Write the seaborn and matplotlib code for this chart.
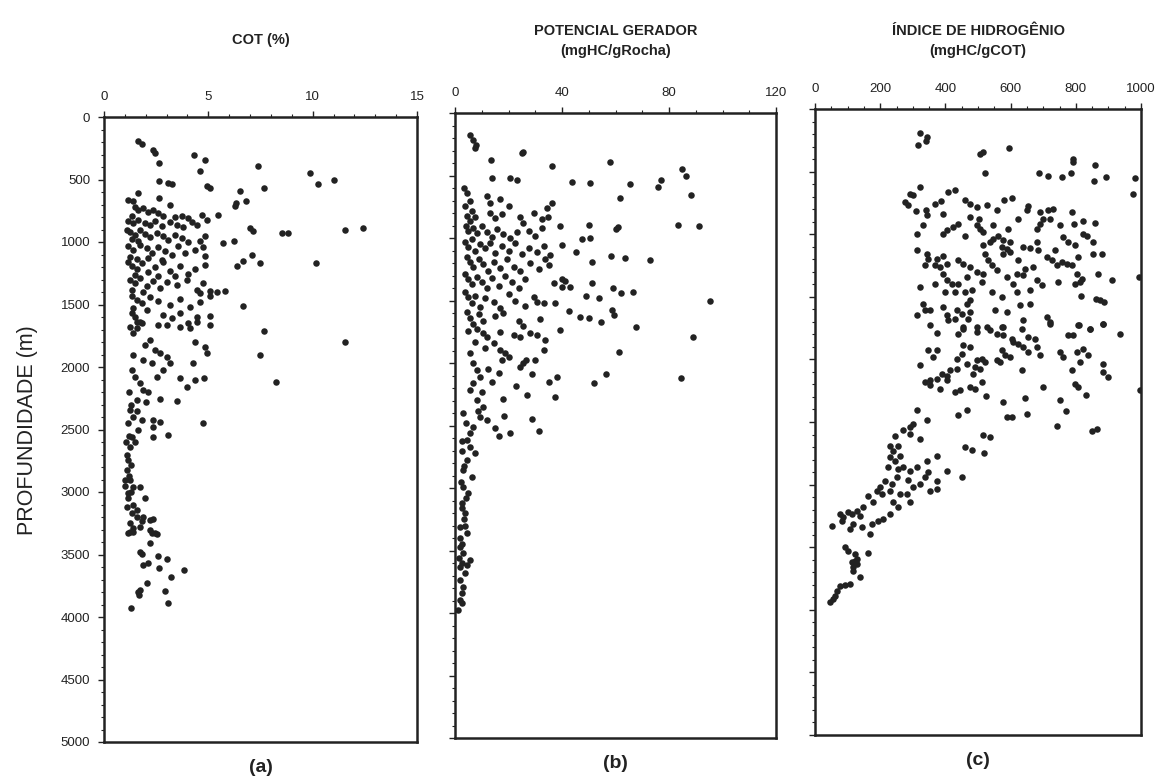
import numpy as np
import pandas as pd
import matplotlib
matplotlib.use("Agg")
import matplotlib.pyplot as plt
import seaborn as sns

# (valor, profundidade m)
cot_pts = [
    (1.65,190),(1.81,215),(2.36,265),(2.44,285),(2.65,370),(4.33,305),(4.84,340),(4.6,430),(7.4,390),
    (9.87,445),(10.27,535),(11.04,505),(2.65,515),(3.08,525),(3.24,535),(4.92,550),(5.08,565),(6.52,590),
    (7.68,570),(6.8,670),(6.33,685),(6.28,715),(1.65,605),(1.17,665),(1.4,675),(2.65,645),(3.16,705),
    (5.48,780),(4.71,785),(4.92,825),(7.0,890),(7.12,910),(8.51,930),(8.83,930),(11.55,905),(12.43,885),
    (5.72,1010),(6.23,995),(7.08,1105),(6.68,1150),(6.36,1190),(7.48,1165),(10.16,1170),(6.68,1510),
    (1.49,720),(1.65,745),(1.89,730),(2.12,760),(2.36,740),(2.6,770),(1.33,790),(2.84,795),(3.4,800),
    (3.72,790),(4.04,810),(4.2,840),
    (1.17,830),(1.41,850),(1.65,820),(1.96,845),(2.2,860),(2.44,830),(2.76,870),(3.16,840),(3.48,860),
    (3.8,880),(4.44,865),
    (1.09,900),(1.25,920),(1.49,945),(1.73,905),(1.96,935),(2.2,960),(2.52,925),(2.84,950),(3.08,985),
    (3.4,940),(3.72,965),(4.04,1000),(4.6,990),(4.84,955),(1.33,975),(1.65,995),
    (1.17,1030),(1.41,1060),(1.73,1020),(2.04,1045),(2.28,1085),(2.6,1040),(2.92,1070),(3.24,1100),
    (3.56,1030),(3.88,1090),(4.36,1060),(4.76,1040),(4.84,1110),(1.25,1120),(1.57,1135),(2.12,1125),(2.76,1140),
    (1.17,1160),(1.33,1190),(1.57,1215),(1.81,1170),(2.12,1240),(2.44,1200),(2.84,1160),(3.16,1230),
    (3.64,1190),(4.04,1255),(4.36,1215),(4.84,1180),(1.49,1265),(2.6,1275),(3.4,1270),
    (1.25,1300),(1.49,1330),(1.73,1290),(2.04,1350),(2.36,1310),(2.68,1370),(3.0,1320),(3.48,1345),
    (3.96,1300),(4.44,1380),(4.76,1330),(5.08,1390),(5.4,1400),(5.8,1395),(4.6,1410),(1.33,1385),(1.89,1400),
    (1.33,1430),(1.57,1460),(1.81,1490),(2.2,1440),(2.6,1470),(3.16,1500),(3.64,1455),(4.12,1520),
    (4.6,1480),(5.08,1435),(1.41,1530),(2.04,1540),
    (1.33,1570),(1.49,1600),(1.73,1640),(2.84,1580),(3.24,1610),(3.64,1565),(4.04,1650),(4.44,1600),
    (5.08,1590),(1.25,1680),(1.57,1690),(2.6,1660),
    (1.57,1637),(1.81,1651),(3.0,1664),(3.64,1677),(4.12,1691),(4.44,1637),(5.08,1664),(7.68,1712),
    (11.55,1797),(7.48,1904),(8.24,2123),(4.76,2451),(4.28,1971),(4.36,1797),(4.84,1837),(4.92,1891),
    (3.64,2091),(3.96,2157),(4.36,2104),(4.81,2091),(2.68,2256),(3.51,2272),(2.36,2424),(2.68,2437),
    (2.36,2477),(2.33,2557),(3.08,2544),
    (1.41,1731),(1.96,1824),(2.2,1784),(2.44,1864),(2.68,1891),(3.0,1917),(3.16,1971),(2.84,2024),
    (2.52,2077),(2.28,1971),(1.89,1944),(1.41,1904),(1.33,2024),(1.49,2077),(1.73,2131),(1.89,2184),
    (2.12,2197),(1.57,2264),(1.25,2344),(1.41,2397),(1.81,2424),(1.65,2504),(1.33,2557),(1.25,2637),
    (1.17,2744),(1.09,2824),(1.25,2904),(1.41,2957),(1.73,2957),(1.96,3051),(1.17,3011),(1.09,3117),
    (1.33,3171),(1.57,3197),(1.89,3197),(2.2,3224),(2.36,3217),(1.25,3251),(1.41,3291),(1.73,3277),
    (2.2,3304),(2.44,3331),(1.17,3331),
    (1.2,2200),(1.3,2300),(1.15,2450),(1.5,2600),(1.1,2700),(1.3,2780),(1.2,2870),(1.0,2950),(1.15,3050),
    (1.4,3100),(1.6,3140),(1.8,3230),(1.2,2550),(1.6,2350),(2.0,2280),(1.05,2600),(1.0,2900),(1.3,3000),
    (1.25,3317),(1.41,3317),(2.28,3331),(2.52,3336),(2.2,3411),(1.73,3477),(1.81,3496),(2.6,3512),
    (3.0,3539),(1.89,3584),(2.12,3571),(2.65,3611),(3.83,3624),(3.21,3677),(2.04,3731),(1.65,3797),
    (1.73,3784),(1.69,3824),(2.92,3792),(3.08,3891),(1.28,3931),
]

pg_pts = [
    (5.6,176),(6.9,216),(7.9,256),(7.5,283),(13.4,376),(25,323),(25.6,309),(36.3,424),(57.9,389),
    (84.8,448),(86.3,504),(88.1,656),(13.75,523),(20.6,523),(23.1,536),(43.75,549),(50.4,557),(65.6,568),
    (75.9,589),(77.1,536),(61.6,683),(83.5,896),(91.25,904),(39.4,904),(50,896),(60,928),(60.9,909),
    (47.5,1011),(50.6,997),(40,1056),(45.25,1109),(51.25,1195),(58.5,1144),(63.4,1157),(72.75,1176),
    (36.3,723),(34.6,829),(95.4,1501),(51.25,1357),(59,1403),(61.9,1443),(66.6,1429),(49.1,1464),
    (53.75,1483),(42.5,1581),(46.6,1629),(50,1643),(54.4,1669),(58.75,1576),(59.4,1616),(41.25,1341),
    (40,1389),(37.5,1517),(30.6,1509),(35.6,1136),(35,1216),(67.5,1709),
    (3.5,600),(4.5,640),(5.5,700),(3.8,740),(6.2,780),(11.9,660),(13.1,720),(16.9,690),(20,740),
    (4.4,820),(5.6,860),(7.5,830),(13.1,800),(15,840),(17.5,810),(24.4,830),(25.6,880),(29.4,800),
    (32.5,850),(34.4,760),
    (4,900),(5,940),(6.9,920),(8.1,960),(10,900),(11.9,950),(13.8,990),(15.6,930),(18.1,970),(20.6,1000),
    (23.1,950),(27.5,940),(30,980),(32.5,920),
    (3.8,1030),(5,1070),(6.3,1010),(7.5,1100),(9.4,1050),(11.3,1080),(13.1,1040),(15,1120),(17.5,1060),
    (20,1100),(22.5,1040),(25,1130),(27.5,1080),(30.6,1110),(33.1,1060),
    (4.4,1150),(5.6,1190),(6.9,1230),(8.8,1170),(10.6,1210),(12.5,1260),(14.4,1190),(16.9,1240),
    (19.4,1170),(21.9,1230),(24.4,1260),(28.1,1200),(31.3,1250),(33.8,1170),
    (3.8,1290),(5,1330),(6.3,1370),(8.1,1310),(10,1350),(11.9,1400),(13.8,1320),(16.3,1380),(18.8,1300),
    (21.3,1350),(23.8,1400),(26.3,1330),(36.9,1360),(43.1,1390),(40,1330),
    (3.8,1430),(5,1470),(6.3,1520),(7.5,1460),(9.4,1550),(11.3,1480),(14.4,1510),(16.9,1560),(20,1450),
    (22.5,1500),(26.3,1540),(29.4,1470),(33.1,1520),
    (4.4,1590),(5.6,1640),(6.9,1690),(8.8,1610),(10.6,1660),(15,1620),(18.1,1600),(23.8,1660),
    (25.6,1700),(31.9,1650),(8.1,1730),(5,1740),
    (89,1795),(61.25,1909),(56.5,2088),(51.9,2163),(84.6,2117),(38.1,2109),(35.25,2149),(37.5,2275),
    (28.75,2091),(26.9,2256),(22.9,2184),(28.75,2451),(31.25,2541),(18.4,2421),(18.1,2291),(16.6,2077),
    (15,2523),(16.6,2581),(20.4,2563),(26.6,1976),(30,1976),(24.4,2029),(25.6,2003),(33.1,1896),
    (33.75,1816),(39.4,1736),(30.6,1776),(28.1,1763),
    (16.9,1896),(18.75,1923),(20,1949),(17.5,1976),(14.4,1843),(11.9,1789),(10.6,1763),(16.9,1749),
    (21.9,1776),(24.4,1789),(5.6,1923),(6.9,2003),(8.1,2056),(9.4,2109),(6.9,2163),(5.6,2216),(10,2229),
    (8.1,2296),(10.6,2349),(9.4,2429),(11.9,2456),(6.9,2509),(5.6,2563),(4.4,2616),(5.6,2669),(7.5,2723),
    (4.4,2776),(3.1,2856),(6.25,2909),(3.1,2989),(5,3043),(2.5,3123),(3.75,3203),(1.9,3309),(4.4,3363),
    (1.9,3469),(3.1,3523),(5.6,3576),(1.9,3629),
    (3,2400),(4,2480),(2.5,2700),(3.5,2820),(2.2,2950),(4,3080),(2.8,3160),(3.3,3250),(2,3400),(2.6,3450),
    (3.8,3300),(1.6,3560),(2.8,2620),(8.5,2380),(12.5,2050),(13.8,2150),(11.3,1880),(7.5,1830),
    (2.5,3603),(4.4,3616),(3.75,3683),(1.9,3736),(3.1,3789),(2.5,3843),(1.9,3896),(2.5,3923),(1.25,3976),
]

ih_pts = [
    (322,195),(345,221),(340,256),(315,288),(506,363),(514,341),(595,309),(521,515),(688,515),(716,533),
    (757,547),(785,509),(790,403),(792,427),(859,448),(856,573),(893,541),(982,555),(976,680),
    (276,741),(286,768),(302,688),(322,621),(291,675),
    (310,813),(340,808),(343,848),(368,755),(388,733),(409,661),(429,648),(332,928),(312,995),(312,1128),
    (394,835),(460,723),(475,755),(496,781),(475,861),(504,875),(527,768),(557,808),(581,723),(603,707),
    (654,776),(649,808),(624,875),(593,955),(545,928),(506,955),(496,928),(516,981),
    (690,821),(716,808),(731,800),(700,875),(690,915),(680,955),(721,875),(752,928),(789,821),(795,915),
    (823,896),(859,909),(394,995),(404,968),(424,941),(440,915),(460,1016),
    (547,1035),(562,1016),(578,1048),(598,1061),(537,1061),(516,1088),(573,1101),(588,1115),
    (639,1101),(660,1107),(680,1061),(685,1128),(736,1128),(762,1021),(777,1061),(798,1088),(823,995),
    (833,1016),(852,1061),(879,1155),(852,1160),
    (343,1155),(348,1195),(373,1195),(394,1176),(404,1235),(384,1261),(337,1248),(368,1248),
    (440,1208),(455,1235),(475,1261),(465,1341),(496,1301),(516,1315),(511,1381),(521,1155),(532,1208),
    (542,1248),(578,1155),(598,1141),(624,1208),(644,1275),(619,1315),(639,1328),(670,1261),(680,1368),
    (695,1408),(660,1448),(608,1395),(619,1461),(629,1568),(660,1555),(588,1341),(557,1288),(573,1501),
    (542,1461),(711,1181),(726,1208),(741,1248),(757,1221),(772,1235),(787,1248),(808,1181),(803,1315),
    (818,1355),(746,1381),(798,1395),(813,1381),(995,1340),
    (869,1315),(910,1368),(862,1515),(874,1528),(887,1541),(815,1493),(884,1715),(844,1755),(811,1728),
    (394,1315),(404,1368),(419,1395),(440,1395),(429,1461),(460,1461),(399,1461),(465,1555),(475,1528),
    (481,1448),(322,1421),(368,1395),(332,1555),(337,1608),(312,1648),(353,1608),(394,1581),(404,1648),
    (435,1608),(450,1635),(475,1621),(409,1688),(429,1675),(470,1675),
    (552,1608),(588,1621),(711,1661),(721,1701),(639,1688),(455,1741),(496,1741),(527,1741),(578,1741),
    (353,1728),(373,1789),(440,1795),(455,1755),(496,1781),(537,1768),(557,1795),(573,1741),(578,1808),
    (634,1755),(603,1835),(608,1861),(624,1875),(639,1901),(654,1821),(675,1835),(680,1901),(690,1968),
    (721,1715),(777,1808),(792,1808),(808,1728),(844,1755),(884,1715),(936,1800),
    (348,1923),(373,1923),(363,1981),(322,2043),(455,1888),(475,1901),(450,1955),(435,1995),(465,2035),
    (496,2008),(511,1995),(521,2021),(491,2061),(506,2075),(485,2115),(557,2008),(573,1928),(583,1968),
    (598,1981),(568,2021),(634,2083),(654,1941),(700,2221),(752,1941),(762,1981),(803,1941),(813,2021),
    (823,1915),(838,1968),(884,2035),(884,2101),(900,2141),(787,2088),(798,2195),(808,2221),(831,2288),
    (337,2181),(353,2168),(373,2155),(389,2115),(404,2136),(414,2088),(435,2075),(353,2208),(384,2235),
    (404,2168),(429,2261),(445,2248),(475,2221),(491,2235),(511,2181),(525,2296),
    (578,2341),(588,2461),(603,2461),(644,2307),(651,2435),(752,2323),(770,2413),(741,2528),(997,2248),
    (849,2568),(864,2555),(440,2448),(465,2403),(514,2600),(537,2621),(460,2696),(481,2723),(518,2747),
    (450,2941),
    (312,2403),(343,2483),(291,2541),(302,2515),(271,2563),(291,2595),(322,2635),(245,2608),(230,2688),
    (240,2728),(256,2688),(261,2768),(230,2781),(245,2808),(271,2861),(256,2875),(225,2861),(291,2888),
    (312,2861),(343,2808),(348,2901),(373,2768),(404,2888),(337,2941),(322,2995),(286,2963),(302,3021),
    (373,2968),(353,3053),(373,3035),
    (251,2941),(235,2995),(215,2968),(199,3021),(189,3048),(205,3075),(230,3048),(261,3075),(281,3075),
    (291,3141),(240,3141),(256,3181),(230,3235),(210,3275),(194,3288),(174,3315),(164,3088),(179,3141),
    (148,3181),(128,3208),(138,3248),(112,3235),(102,3221),(87,3261),(77,3235),(82,3288),(118,3315),
    (143,3341),(169,3395),(107,3355),(51,3328),
    (92,3501),(102,3528),(123,3555),(164,3547),(128,3595),(112,3621),(118,3661),
    (138,3741),(118,3688),(128,3635),(107,3795),(92,3800),(77,3808),(66,3848),(61,3888),(56,3915),
    (46,3941),(123,3608),
]

titles = ["COT (%)", "POTENCIAL GERADOR\n(mgHC/gRocha)", "ÍNDICE DE HIDROGÊNIO\n(mgHC/gCOT)"]
panel_tags = ["(a)", "(b)", "(c)"]
x_limits = [(0, 15), (0, 120), (0, 1000)]
x_major = [5, 40, 200]
x_minor = [1, 10, 50]
depth_ticks = list(range(0, 5001, 500))

sns.set_style("ticks")
plt.rcParams['font.family'] = ['Liberation Sans', 'DejaVu Sans']

fig = plt.figure(figsize=(11.61, 7.78), dpi=100)
# axes boxes in figure fractions (scan is slightly tilted)
boxes = [
    [104/1161, 36/778, 313/1161, 625/778],
    [455/1161, 40/778, 321/1161, 625/778],
    [815/1161, 43/778, 326/1161, 626/778],
]
title_y = [40, 41, 41]  # pixel rows from the top
ink = "#222222"

for i, pts in enumerate([cot_pts, pg_pts, ih_pts]):
    ax = fig.add_axes(boxes[i])
    df = pd.DataFrame(pts, columns=["valor", "prof"])
    sns.scatterplot(data=df, x="valor", y="prof", ax=ax, s=22, color=ink,
                    linewidth=0, legend=False)
    ax.set_xlim(*x_limits[i])
    ax.set_ylim(5000, 0)
    ax.xaxis.set_ticks_position("top")
    ax.xaxis.set_label_position("top")
    ax.set_xticks(np.arange(x_limits[i][0], x_limits[i][1] + 1, x_major[i]))
    ax.set_xticks(np.arange(x_limits[i][0], x_limits[i][1] + 1, x_minor[i]), minor=True)
    ax.set_yticks(depth_ticks)
    ax.set_yticks(range(0, 5001, 100), minor=True)
    ax.tick_params(axis="both", which="major", length=4, width=1, color=ink,
                   labelsize=9.5, labelcolor=ink, pad=6)
    ax.tick_params(axis="x", which="major", pad=6)
    ax.tick_params(axis="both", which="minor", length=2, width=0.8, color=ink)
    if i > 0:
        ax.tick_params(axis="y", labelleft=False)
    ax.set_xlabel("")
    ax.set_ylabel("")
    for sp in ax.spines.values():
        sp.set_linewidth(1.8)
        sp.set_color(ink)
    ax.text(0.5, -0.04, panel_tags[i], transform=ax.transAxes, ha="center", va="center",
            fontsize=14, color=ink, fontweight="bold")
    cx = boxes[i][0] + boxes[i][2] / 2
    fig.text(cx, 1 - title_y[i] / 778, titles[i], ha="center", va="center",
             fontsize=10.5, color=ink, linespacing=1.55, fontweight="bold")

fig.text(28/1161, 1 - 430/778, "PROFUNDIDADE (m)", rotation=90, ha="center", va="center",
         fontsize=15.5, color=ink)

fig.savefig("out.png", dpi=100, facecolor="white")
